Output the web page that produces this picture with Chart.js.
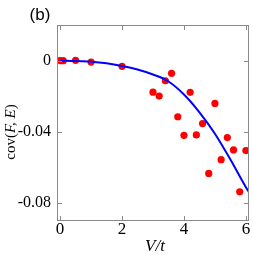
<!DOCTYPE html>
<html>
<head>
<meta charset="utf-8">
<script src="https://cdn.jsdelivr.net/npm/chart.js@4.4.1/dist/chart.umd.min.js"></script>
<style>
    html, body { margin: 0; padding: 0; background: #fff; }
    #wrap { width: 253px; height: 255px; }
</style>
</head>
<body>
<div id="wrap"><canvas id="covChart" width="253" height="255"></canvas></div>
<script>
// measured points, V/t vs cov(F,E)
const pointX = [0, 0.1, 0.5, 1, 2, 3, 3.2, 3.4, 3.6, 3.8, 4, 4.2, 4.4, 4.6, 4.8, 5, 5.2, 5.4, 5.6, 5.8, 6];
const pointY = [0, 0, 0.0002, -0.0008, -0.0032, -0.0177, -0.0199, -0.0113, -0.0071, -0.0315, -0.0419,
                -0.0178, -0.0417, -0.0353, -0.0633, -0.024, -0.0556, -0.0432, -0.0501, -0.0736, -0.0505];

// blue fit curve
const curveX = [0, 0.5, 1, 1.5, 2, 2.5, 3, 3.5, 4, 4.5, 5, 5.5, 6, 6.1];
const curveY = [0, -0.0002, -0.0006, -0.0015, -0.003, -0.005, -0.0078, -0.0117, -0.019, -0.029, -0.041, -0.0555, -0.071, -0.0738];

const xTicks = [0, 2, 4, 6];
const yTicks = [0, -0.04, -0.08];

const serif = '"Liberation Serif", "DejaVu Serif", serif';

// frame + inward tick marks + text labels
const framePlugin = {
    id: 'frame',
    afterDraw(chart) {
        const ctx = chart.ctx;
        const a = chart.chartArea;
        const xs = chart.scales.x, ys = chart.scales.y;
        ctx.save();
        ctx.strokeStyle = '#8a8a8a';
        ctx.lineWidth = 1;
        ctx.strokeRect(a.left + 0.5, a.top + 0.5, a.right - a.left - 1, a.bottom - a.top - 1);
        ctx.beginPath();
        xTicks.forEach(v => {
            const px = Math.round(xs.getPixelForValue(v)) + 0.5;
            ctx.moveTo(px, a.bottom); ctx.lineTo(px, a.bottom - 5);
            ctx.moveTo(px, a.top); ctx.lineTo(px, a.top + 5);
        });
        yTicks.forEach(v => {
            const py = Math.round(ys.getPixelForValue(v)) + 0.5;
            ctx.moveTo(a.left, py); ctx.lineTo(a.left + 5, py);
            ctx.moveTo(a.right, py); ctx.lineTo(a.right - 5, py);
        });
        ctx.stroke();

        // panel letter
        ctx.fillStyle = '#000';
        ctx.font = '17px "Liberation Sans", Arial, sans-serif';
        ctx.textAlign = 'center';
        ctx.textBaseline = 'middle';
        ctx.fillText('(b)', 40, 15);

        // x axis title
        ctx.font = 'italic 17px ' + serif;
        ctx.fillText('V/t', 155, 247);

        // y axis title, "cov" upright and "(F, E)" italic
        ctx.translate(11, 132);
        ctx.rotate(-Math.PI / 2);
        ctx.textAlign = 'left';
        const p1 = 'cov(';
        const p2 = 'F, E';
        const p3 = ')';
        ctx.font = '15px ' + serif;
        const w1 = ctx.measureText(p1).width;
        const w3 = ctx.measureText(p3).width;
        ctx.font = 'italic 15px ' + serif;
        const w2 = ctx.measureText(p2).width;
        let x0 = -(w1 + w2 + w3) / 2;
        ctx.font = '15px ' + serif;
        ctx.fillText(p1, x0, 0);
        ctx.font = 'italic 15px ' + serif;
        ctx.fillText(p2, x0 + w1, 0);
        ctx.font = '15px ' + serif;
        ctx.fillText(p3, x0 + w1 + w2, 0);
        ctx.restore();
    }
};

new Chart(document.getElementById('covChart').getContext('2d'), {
    type: 'scatter',
    data: {
        datasets: [
            {
                type: 'line',
                data: curveX.map((x, i) => ({ x: x, y: curveY[i] })),
                borderColor: '#0000ff',
                borderWidth: 2,
                pointRadius: 0,
                cubicInterpolationMode: 'monotone',
                fill: false,
                order: 0
            },
            {
                data: pointX.map((x, i) => ({ x: x, y: pointY[i] })),
                backgroundColor: '#ff0000',
                borderWidth: 0,
                pointRadius: 3.6,
                order: 1
            }
        ]
    },
    options: {
        responsive: false,
        animation: false,
        layout: { padding: { top: 25, right: 1, left: 0, bottom: 0 } },
        plugins: { legend: { display: false }, tooltip: { enabled: false } },
        scales: {
            x: {
                type: 'linear',
                min: -0.1,
                max: 6.1,
                afterBuildTicks: s => { s.ticks = xTicks.map(v => ({ value: v })); },
                afterFit: s => { s.height = 34; },
                grid: { display: false, drawTicks: false },
                border: { display: false },
                ticks: { color: '#000', padding: -2, font: { family: serif, size: 17 }, maxRotation: 0 }
            },
            y: {
                type: 'linear',
                min: -0.09,
                max: 0.02,
                afterBuildTicks: s => { s.ticks = yTicks.map(v => ({ value: v })); },
                afterFit: s => { s.width = 57; },
                grid: { display: false, drawTicks: false },
                border: { display: false },
                ticks: {
                    color: '#000',
                    padding: 6,
                    font: { family: serif, size: 16 },
                    callback: v => v === 0 ? '0' : v.toFixed(2)
                }
            }
        }
    },
    plugins: [framePlugin]
});
</script>
</body>
</html>
